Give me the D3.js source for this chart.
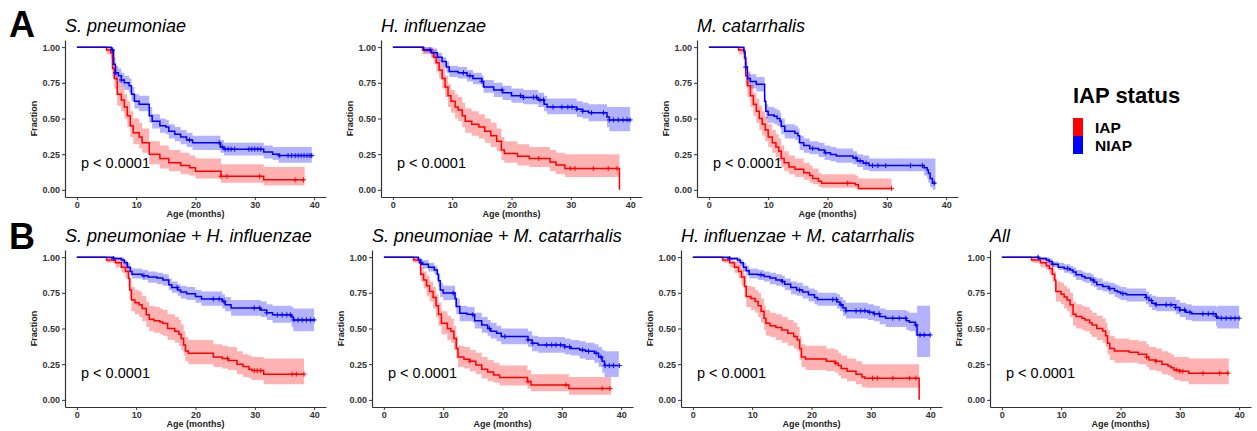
<!DOCTYPE html>
<meta charset="utf-8">
<style>
    body { margin: 0; background: #fff; }
    svg text { font-family: "Liberation Sans", Arial, sans-serif; }
    .tick text { font-size: 9px; font-weight: bold; fill: #333; }
    .tick line, .domain { stroke: #333; }
    .lab { font-size: 9px; font-weight: bold; fill: #222; }
    .ttl { font-size: 18px; font-style: italic; fill: #000; }
    .pv { font-size: 14.5px; fill: #000; }
    .tag { font-size: 36px; font-weight: bold; }
</style>
<svg width="1257" height="431"></svg>

<script src="https://d3js.org/d3.v7.min.js"></script>
<script>
    var titles = ["S. pneumoniae", "H. influenzae", "M. catarrhalis",
        "S. pneumoniae + H. influenzae", "S. pneumoniae + M. catarrhalis",
        "H. influenzae + M. catarrhalis", "All"];
    var groups = ["IAP", "NIAP"];
    var xTicks = [0, 10, 20, 30, 40];
    var yTicks = [0, 0.25, 0.5, 0.75, 1];
    var pLabel = "p < 0.0001";

    // rows: [age, survival, lower, upper]
    var spnIAP = [[0,1,1,1],[5.0,0.98,0.95,1],[5.7,0.96,0.92,1],[6.0,0.85,0.79,0.92],[6.3,0.78,0.71,0.86],[6.8,0.67,0.59,0.76],[7.5,0.63,0.55,0.72],[8.0,0.58,0.50,0.67],[8.5,0.52,0.44,0.62],[9.0,0.45,0.37,0.55],[9.5,0.40,0.32,0.50],[10.5,0.37,0.29,0.47],[11.0,0.33,0.26,0.43],[12.2,0.25,0.18,0.34],[14.0,0.22,0.15,0.31],[15.5,0.19,0.13,0.28],[17.5,0.17,0.11,0.26],[19.0,0.155,0.10,0.24],[20.0,0.13,0.08,0.22],[24.3,0.095,0.05,0.18],[31.5,0.07,0.03,0.16],[38.4,0.07,0.03,0.16]];
    var spnNIAP = [[0,1,1,1],[5.8,0.98,0.96,1],[6.2,0.88,0.84,0.93],[6.5,0.82,0.77,0.87],[7.0,0.80,0.75,0.85],[7.5,0.77,0.72,0.82],[8.0,0.75,0.70,0.80],[8.8,0.73,0.68,0.78],[9.2,0.67,0.62,0.72],[9.7,0.62,0.57,0.67],[10.5,0.60,0.55,0.66],[12.2,0.52,0.47,0.58],[12.7,0.48,0.43,0.53],[14.0,0.45,0.40,0.50],[15.0,0.44,0.39,0.49],[15.5,0.41,0.36,0.46],[16.5,0.39,0.34,0.44],[17.5,0.37,0.32,0.42],[18.5,0.35,0.30,0.40],[19.5,0.33,0.28,0.38],[24.2,0.30,0.26,0.35],[24.8,0.285,0.24,0.33],[31.5,0.265,0.22,0.31],[33.0,0.25,0.21,0.30],[34.0,0.24,0.19,0.30],[39.6,0.24,0.19,0.30]];
    var hinIAP = [[0,1,1,1],[5.0,0.98,0.95,1],[6.5,0.96,0.92,1],[6.9,0.93,0.88,0.98],[7.3,0.89,0.83,0.95],[7.8,0.84,0.78,0.91],[8.3,0.78,0.71,0.86],[8.8,0.72,0.65,0.80],[9.3,0.66,0.58,0.74],[9.8,0.62,0.54,0.70],[10.5,0.58,0.50,0.67],[11.0,0.56,0.48,0.65],[11.7,0.52,0.44,0.61],[12.2,0.48,0.40,0.57],[13.3,0.46,0.38,0.55],[14.5,0.44,0.36,0.53],[15.5,0.41,0.33,0.50],[16.5,0.38,0.30,0.47],[17.5,0.34,0.27,0.43],[18.3,0.28,0.21,0.37],[18.8,0.255,0.19,0.34],[21.0,0.235,0.17,0.32],[23.0,0.22,0.16,0.30],[26.5,0.195,0.13,0.28],[27.5,0.175,0.11,0.26],[29.0,0.15,0.09,0.25],[38.2,0,0,0]];
    var hinNIAP = [[0,1,1,1],[5.2,0.98,0.96,1],[6.5,0.96,0.93,0.99],[7.5,0.93,0.90,0.96],[8.3,0.90,0.86,0.93],[9.0,0.86,0.82,0.90],[9.5,0.83,0.79,0.87],[11.0,0.82,0.78,0.86],[12.5,0.80,0.76,0.84],[13.5,0.78,0.74,0.82],[15.0,0.76,0.72,0.80],[15.3,0.72,0.68,0.77],[17.0,0.70,0.65,0.75],[18.5,0.68,0.63,0.73],[20.0,0.66,0.61,0.71],[22.0,0.648,0.60,0.70],[24.5,0.63,0.58,0.68],[25.5,0.60,0.55,0.66],[26.0,0.58,0.53,0.64],[31.0,0.565,0.51,0.62],[32.0,0.55,0.50,0.61],[33.0,0.54,0.48,0.60],[36.1,0.51,0.44,0.58],[36.5,0.49,0.41,0.58],[40.0,0.49,0.41,0.58]];
    var mcaIAP = [[0,1,1,1],[5.0,0.98,0.95,1],[6.0,0.92,0.87,0.97],[6.2,0.80,0.73,0.87],[6.5,0.73,0.65,0.81],[7.0,0.66,0.58,0.74],[7.5,0.60,0.52,0.68],[8.0,0.55,0.47,0.64],[8.5,0.50,0.42,0.59],[9.0,0.46,0.38,0.55],[9.5,0.42,0.34,0.51],[10.0,0.37,0.30,0.46],[10.7,0.33,0.26,0.42],[11.3,0.30,0.23,0.39],[11.8,0.27,0.20,0.36],[12.2,0.22,0.16,0.31],[12.7,0.19,0.13,0.27],[13.5,0.16,0.11,0.24],[14.5,0.145,0.09,0.22],[16.0,0.12,0.07,0.19],[17.0,0.10,0.05,0.17],[17.5,0.08,0.04,0.15],[18.5,0.06,0.02,0.12],[19.0,0.047,0.015,0.11],[24.7,0.035,0.01,0.10],[25.2,0.01,0,0.08],[30.8,0.01,0,0.08]];
    var mcaNIAP = [[0,1,1,1],[5.9,0.97,0.95,0.99],[6.1,0.93,0.90,0.96],[6.2,0.86,0.82,0.90],[6.5,0.78,0.74,0.83],[7.0,0.76,0.71,0.81],[8.0,0.74,0.69,0.79],[9.4,0.62,0.57,0.67],[9.6,0.55,0.50,0.60],[10.0,0.525,0.47,0.58],[11.0,0.515,0.46,0.57],[11.5,0.50,0.45,0.56],[12.0,0.48,0.43,0.54],[12.2,0.445,0.39,0.50],[12.8,0.41,0.36,0.46],[14.5,0.397,0.35,0.45],[15.0,0.38,0.33,0.43],[15.3,0.33,0.28,0.38],[16.0,0.31,0.26,0.36],[17.0,0.29,0.25,0.34],[18.5,0.28,0.23,0.33],[19.5,0.26,0.21,0.31],[20.5,0.248,0.20,0.30],[21.5,0.238,0.19,0.29],[24.3,0.224,0.18,0.27],[25.0,0.203,0.16,0.25],[26.0,0.186,0.14,0.24],[27.0,0.17,0.13,0.22],[36.3,0.155,0.10,0.22],[36.8,0.14,0.08,0.22],[37.0,0.117,0.05,0.22],[37.3,0.08,0.02,0.22],[37.7,0.047,0,0.22],[38.2,0.047,0,0.22]];
    var spHiIAP = [[0,1,1,1],[5.0,0.98,0.96,1],[6.5,0.96,0.93,0.99],[7.5,0.93,0.89,0.97],[8.2,0.90,0.85,0.95],[8.7,0.85,0.79,0.91],[8.9,0.77,0.70,0.85],[9.2,0.70,0.62,0.79],[9.8,0.68,0.60,0.77],[10.5,0.666,0.58,0.76],[11.0,0.64,0.55,0.73],[11.7,0.596,0.51,0.69],[12.2,0.565,0.48,0.66],[13.0,0.555,0.47,0.65],[14.0,0.545,0.46,0.64],[14.5,0.535,0.45,0.63],[15.3,0.50,0.42,0.60],[16.5,0.48,0.40,0.58],[17.2,0.46,0.38,0.56],[17.6,0.43,0.35,0.53],[18.0,0.385,0.31,0.48],[18.3,0.343,0.27,0.44],[18.8,0.327,0.25,0.42],[23.0,0.30,0.23,0.39],[24.5,0.29,0.22,0.38],[25.5,0.276,0.21,0.37],[27.0,0.25,0.18,0.34],[28.0,0.233,0.16,0.32],[29.0,0.215,0.15,0.31],[29.5,0.205,0.14,0.30],[31.5,0.18,0.11,0.29],[38.3,0.18,0.11,0.29]];
    var spHiNIAP = [[0,1,1,1],[6.2,0.99,0.98,1],[7.5,0.98,0.96,1],[8.0,0.96,0.94,0.98],[8.5,0.93,0.90,0.96],[9.0,0.90,0.87,0.93],[9.3,0.88,0.85,0.92],[11.0,0.87,0.84,0.91],[12.0,0.86,0.82,0.90],[13.5,0.853,0.81,0.89],[14.5,0.84,0.80,0.88],[15.5,0.806,0.77,0.85],[16.0,0.787,0.75,0.83],[17.0,0.77,0.73,0.81],[17.5,0.755,0.71,0.80],[18.5,0.743,0.70,0.79],[20.0,0.724,0.68,0.77],[21.0,0.707,0.66,0.76],[24.5,0.69,0.64,0.74],[25.0,0.666,0.62,0.72],[26.0,0.643,0.59,0.70],[31.0,0.63,0.58,0.69],[32.0,0.61,0.56,0.67],[33.0,0.596,0.54,0.66],[36.2,0.58,0.51,0.65],[36.5,0.56,0.48,0.64],[40.0,0.56,0.48,0.64]];
    var spMcIAP = [[0,1,1,1],[5.0,0.98,0.96,1],[6.0,0.96,0.93,0.99],[6.2,0.88,0.83,0.93],[6.7,0.84,0.78,0.90],[7.2,0.80,0.73,0.87],[7.7,0.76,0.69,0.83],[8.3,0.717,0.64,0.79],[8.8,0.66,0.58,0.74],[9.2,0.60,0.52,0.68],[9.7,0.537,0.46,0.62],[10.7,0.50,0.42,0.59],[11.3,0.48,0.40,0.57],[11.8,0.43,0.35,0.52],[12.2,0.36,0.29,0.45],[12.5,0.30,0.23,0.38],[13.5,0.285,0.22,0.37],[14.5,0.27,0.20,0.35],[15.5,0.245,0.18,0.33],[16.5,0.215,0.15,0.30],[17.5,0.195,0.13,0.28],[18.5,0.175,0.12,0.26],[19.5,0.157,0.10,0.24],[24.2,0.128,0.08,0.21],[24.8,0.105,0.06,0.18],[31.2,0.08,0.035,0.16],[38.3,0.08,0.035,0.16]];
    var spMcNIAP = [[0,1,1,1],[5.8,0.98,0.96,1],[6.2,0.96,0.94,0.99],[6.5,0.95,0.92,0.98],[7.5,0.93,0.90,0.96],[8.5,0.91,0.88,0.94],[9.0,0.88,0.84,0.92],[9.2,0.834,0.79,0.88],[9.5,0.77,0.72,0.82],[10.0,0.748,0.70,0.80],[12.0,0.71,0.66,0.76],[12.2,0.654,0.60,0.71],[12.8,0.607,0.55,0.66],[14.0,0.60,0.55,0.65],[15.0,0.596,0.54,0.65],[15.3,0.554,0.50,0.61],[16.5,0.525,0.47,0.58],[17.5,0.50,0.45,0.56],[18.0,0.48,0.43,0.54],[19.0,0.467,0.41,0.52],[19.8,0.444,0.39,0.50],[24.3,0.42,0.37,0.48],[25.0,0.397,0.34,0.45],[26.0,0.385,0.33,0.44],[30.5,0.372,0.32,0.43],[31.5,0.36,0.31,0.42],[33.0,0.35,0.29,0.41],[34.0,0.34,0.28,0.40],[35.5,0.327,0.26,0.39],[36.2,0.30,0.23,0.37],[36.8,0.27,0.19,0.35],[37.2,0.24,0.16,0.34],[39.6,0.24,0.16,0.34]];
    var hiMcIAP = [[0,1,1,1],[5.0,0.98,0.96,1],[6.2,0.96,0.93,0.99],[7.0,0.93,0.89,0.97],[7.7,0.90,0.85,0.95],[8.2,0.86,0.80,0.92],[8.7,0.794,0.72,0.87],[9.0,0.724,0.65,0.80],[9.8,0.71,0.63,0.79],[10.5,0.69,0.61,0.77],[11.0,0.66,0.58,0.75],[11.5,0.62,0.54,0.71],[12.0,0.572,0.49,0.66],[12.3,0.537,0.45,0.63],[13.0,0.52,0.44,0.61],[14.0,0.507,0.42,0.60],[15.0,0.49,0.40,0.58],[16.0,0.467,0.38,0.56],[17.0,0.444,0.36,0.54],[17.6,0.42,0.34,0.51],[18.0,0.36,0.28,0.45],[18.3,0.30,0.23,0.39],[19.0,0.287,0.21,0.38],[22.5,0.27,0.20,0.36],[24.0,0.257,0.19,0.35],[24.5,0.24,0.17,0.33],[25.0,0.22,0.15,0.31],[26.0,0.20,0.13,0.29],[27.5,0.18,0.11,0.27],[28.5,0.16,0.09,0.25],[29.0,0.152,0.085,0.25],[38.15,0,0,0]];
    var hiMcNIAP = [[0,1,1,1],[6.2,0.99,0.98,1],[7.5,0.98,0.96,1],[8.0,0.96,0.94,0.98],[8.5,0.93,0.90,0.96],[9.0,0.904,0.87,0.94],[9.5,0.88,0.85,0.92],[11.0,0.876,0.84,0.91],[12.0,0.865,0.83,0.90],[13.0,0.853,0.81,0.89],[14.0,0.84,0.80,0.88],[15.0,0.83,0.79,0.87],[15.5,0.81,0.77,0.85],[16.5,0.787,0.74,0.83],[17.5,0.77,0.73,0.82],[18.5,0.755,0.71,0.80],[19.5,0.736,0.69,0.78],[20.5,0.717,0.67,0.77],[21.0,0.703,0.66,0.75],[24.3,0.685,0.64,0.74],[24.8,0.666,0.62,0.72],[25.3,0.643,0.59,0.70],[25.8,0.624,0.57,0.68],[29.5,0.614,0.56,0.67],[30.5,0.603,0.55,0.66],[31.5,0.584,0.53,0.64],[32.5,0.572,0.51,0.63],[36.0,0.554,0.49,0.62],[36.5,0.544,0.48,0.61],[37.5,0.525,0.45,0.61],[37.8,0.455,0.30,0.66],[40.0,0.455,0.30,0.66]];
    var allIAP = [[0,1,1,1],[5.0,0.98,0.96,1],[6.5,0.96,0.93,0.99],[7.5,0.94,0.91,0.98],[8.0,0.92,0.88,0.96],[8.5,0.88,0.83,0.93],[8.9,0.84,0.78,0.90],[9.1,0.76,0.69,0.83],[10.0,0.74,0.67,0.82],[10.5,0.72,0.64,0.80],[11.0,0.70,0.62,0.78],[11.5,0.666,0.58,0.75],[12.0,0.60,0.52,0.69],[12.5,0.584,0.50,0.67],[13.5,0.572,0.49,0.66],[14.0,0.56,0.48,0.65],[14.8,0.54,0.46,0.63],[15.2,0.525,0.44,0.61],[16.0,0.50,0.42,0.59],[17.0,0.483,0.40,0.57],[17.5,0.45,0.37,0.54],[17.8,0.397,0.32,0.49],[18.2,0.36,0.28,0.45],[19.0,0.343,0.26,0.43],[21.5,0.334,0.26,0.42],[23.0,0.32,0.25,0.41],[24.4,0.30,0.23,0.39],[24.8,0.28,0.21,0.37],[26.0,0.27,0.20,0.36],[27.0,0.25,0.18,0.34],[28.0,0.238,0.17,0.33],[28.5,0.225,0.16,0.32],[29.0,0.21,0.14,0.30],[30.0,0.20,0.13,0.30],[31.5,0.187,0.11,0.29],[38.25,0.187,0.11,0.29]];
    var allNIAP = [[0,1,1,1],[6.2,0.99,0.98,1],[7.5,0.98,0.96,1],[8.0,0.97,0.95,0.99],[8.5,0.95,0.93,0.97],[9.5,0.93,0.91,0.96],[10.5,0.92,0.89,0.95],[11.5,0.91,0.88,0.94],[12.0,0.895,0.86,0.93],[12.5,0.876,0.84,0.91],[13.5,0.864,0.83,0.90],[14.0,0.853,0.82,0.89],[15.0,0.84,0.80,0.88],[15.5,0.825,0.79,0.86],[16.0,0.806,0.77,0.85],[17.0,0.794,0.76,0.83],[18.0,0.78,0.74,0.82],[19.0,0.764,0.72,0.81],[19.5,0.755,0.71,0.80],[20.0,0.745,0.70,0.79],[21.0,0.736,0.69,0.78],[24.3,0.717,0.67,0.76],[24.8,0.696,0.65,0.74],[25.3,0.677,0.63,0.73],[26.0,0.666,0.62,0.72],[29.3,0.647,0.60,0.70],[30.0,0.63,0.58,0.68],[31.0,0.614,0.56,0.67],[32.0,0.603,0.55,0.66],[36.1,0.584,0.52,0.65],[36.3,0.572,0.50,0.66],[40.0,0.572,0.50,0.66]];

    // censoring times
    var spnIAPc = [24.3, 25.3, 30.8, 36.8, 38.2];
    var spnNIAPc = [6.0, 6.5, 7.5, 19.0, 24.0, 24.5, 25.0, 25.5, 26.0, 26.6, 29.0, 29.5, 30.0, 30.5, 31.0, 34.2, 35.6, 36.2, 36.8, 37.3, 37.8, 38.3, 38.8, 39.3, 39.6];
    var hinIAPc = [24.6, 29.9, 30.7, 33.8, 36.3, 37.8];
    var hinNIAPc = [6.3, 11.9, 13, 15, 18.4, 21.5, 22, 23.7, 24.2, 24.8, 25.4, 27, 28.5, 29.5, 30.2, 31, 32, 33.5, 35.5, 36.5, 37.2, 38, 38.8, 39.5, 40];
    var mcaIAPc = [23.4, 30.8];
    var mcaNIAPc = [6.2, 17.5, 19.7, 24.8, 25.5, 26.5, 27.6, 28.5, 29.8, 34, 36, 38];
    var spHiIAPc = [25.4, 29.9, 30.4, 31, 36.3, 37, 38.3];
    var spHiNIAPc = [6.2, 11.3, 16.9, 23, 24, 24.8, 29.9, 30.8, 32, 33.8, 34.6, 35.4, 36, 36.6, 37.3, 38, 38.7, 39.4, 40];
    var spMcIAPc = [14.5, 24.3, 30.7, 36.8, 38.1];
    var spMcNIAPc = [6.3, 11.7, 15, 17.8, 20.4, 24.3, 25.1, 27.4, 28.3, 29, 29.8, 30.5, 31.3, 33.5, 34.5, 35.8, 36.6, 37.3, 38, 38.7, 39.7];
    var hiMcIAPc = [24.1, 30.3, 31.1, 33.7, 36.5, 37.6];
    var hiMcNIAPc = [6.2, 11.5, 15.1, 18, 23.6, 24.2, 25, 25.8, 27.5, 28.3, 29, 29.8, 30.6, 31.4, 33.7, 34.8, 35.9, 37.6, 38.3, 39, 40];
    var allIAPc = [24.4, 26, 29.4, 30, 30.5, 33.9, 36.7, 38.1];
    var allNIAPc = [6.1, 8.6, 11.1, 15.4, 18.2, 20.4, 24.4, 25.2, 26, 27.7, 28.5, 29.3, 30, 30.8, 31.7, 33.9, 34.8, 35.6, 36.2, 37, 37.8, 38.6, 39.3, 40];

    var panels = [
        { iap: spnIAP, niap: spnNIAP, iapC: spnIAPc, niapC: spnNIAPc },
        { iap: hinIAP, niap: hinNIAP, iapC: hinIAPc, niapC: hinNIAPc },
        { iap: mcaIAP, niap: mcaNIAP, iapC: mcaIAPc, niapC: mcaNIAPc },
        { iap: spHiIAP, niap: spHiNIAP, iapC: spHiIAPc, niapC: spHiNIAPc },
        { iap: spMcIAP, niap: spMcNIAP, iapC: spMcIAPc, niapC: spMcNIAPc },
        { iap: hiMcIAP, niap: hiMcNIAP, iapC: hiMcIAPc, niapC: hiMcNIAPc },
        { iap: allIAP, niap: allNIAP, iapC: allIAPc, niapC: allNIAPc }
    ];

    var svg = d3.select("svg");
    var pos = [[65, 40], [381, 40], [697, 40], [65, 250], [372, 250], [681, 250], [990, 250]];
    var w = 261, h = 157;
    var color = d3.scaleOrdinal().domain(groups).range(["#ff0000", "#0000ff"]);
    var x = d3.scaleLinear().domain([-2, 42]).range([0, w]);
    var y = d3.scaleLinear().domain([-0.05, 1.05]).range([h, 0]);

    var band = d3.area().curve(d3.curveStepAfter)
        .x(function(d) { return x(d[0]); })
        .y0(function(d) { return y(d[2]); })
        .y1(function(d) { return y(d[3]); });
    var line = d3.line().curve(d3.curveStepAfter)
        .x(function(d) { return x(d[0]); })
        .y(function(d) { return y(d[1]); });
    var bis = d3.bisector(function(d) { return d[0]; }).right;

    panels.forEach(function(p, i) {
        var g = svg.append("g").attr("transform", "translate(" + pos[i][0] + "," + pos[i][1] + ")");
        var curves = [[p.iap, p.iapC, "IAP"], [p.niap, p.niapC, "NIAP"]];

        curves.forEach(function(c) {
            g.append("path").attr("d", band(c[0]))
                .attr("fill", color(c[2])).attr("fill-opacity", 0.3);
        });
        curves.forEach(function(c) {
            g.append("path").attr("d", line(c[0]))
                .attr("fill", "none").attr("stroke", color(c[2])).attr("stroke-width", 1.5);
            g.selectAll(null).data(c[1]).enter().append("path")
                .attr("transform", function(t) {
                    var row = c[0][Math.max(0, bis(c[0], t) - 1)];
                    return "translate(" + x(t) + "," + y(row[1]) + ")";
                })
                .attr("d", "M-2.5,0H2.5M0,-2.5V2.5")
                .attr("stroke", color(c[2])).attr("stroke-width", 1);
        });

        g.append("g").attr("transform", "translate(0," + h + ")")
            .call(d3.axisBottom(x).tickValues(xTicks).tickSize(3).tickPadding(2).tickSizeOuter(0));
        g.append("g")
            .call(d3.axisLeft(y).tickValues(yTicks).tickFormat(d3.format(".2f")).tickSize(3).tickPadding(2).tickSizeOuter(0));
        g.selectAll(".domain").attr("stroke-width", 1.2);

        g.append("text").attr("class", "lab").attr("text-anchor", "middle")
            .attr("transform", "translate(-28," + (h / 2) + ") rotate(-90)").text("Fraction");
        g.append("text").attr("class", "lab").attr("text-anchor", "middle")
            .attr("x", w / 2).attr("y", h + 20).text("Age (months)");
        g.append("text").attr("class", "ttl").attr("x", 0).attr("y", -8).text(titles[i]);
        g.append("text").attr("class", "pv").attr("x", x(0.7)).attr("y", y(0.19)).attr("dy", "0.35em").text(pLabel);
    });

    svg.append("text").attr("class", "tag").attr("x", 9).attr("y", 37).text("A");
    svg.append("text").attr("class", "tag").attr("x", 9).attr("y", 249).text("B");

    var leg = svg.append("g").attr("transform", "translate(1073,0)");
    leg.append("text").attr("y", 103).attr("font-size", "22px").attr("font-weight", "bold").text("IAP status");
    groups.forEach(function(k, i) {
        leg.append("rect").attr("x", 0).attr("y", 118 + i * 18).attr("width", 10).attr("height", 18)
            .attr("fill", color(k));
        leg.append("text").attr("x", 22).attr("y", 133 + i * 18).attr("font-size", "15.5px")
            .attr("font-weight", "bold").text(k);
    });
</script>
